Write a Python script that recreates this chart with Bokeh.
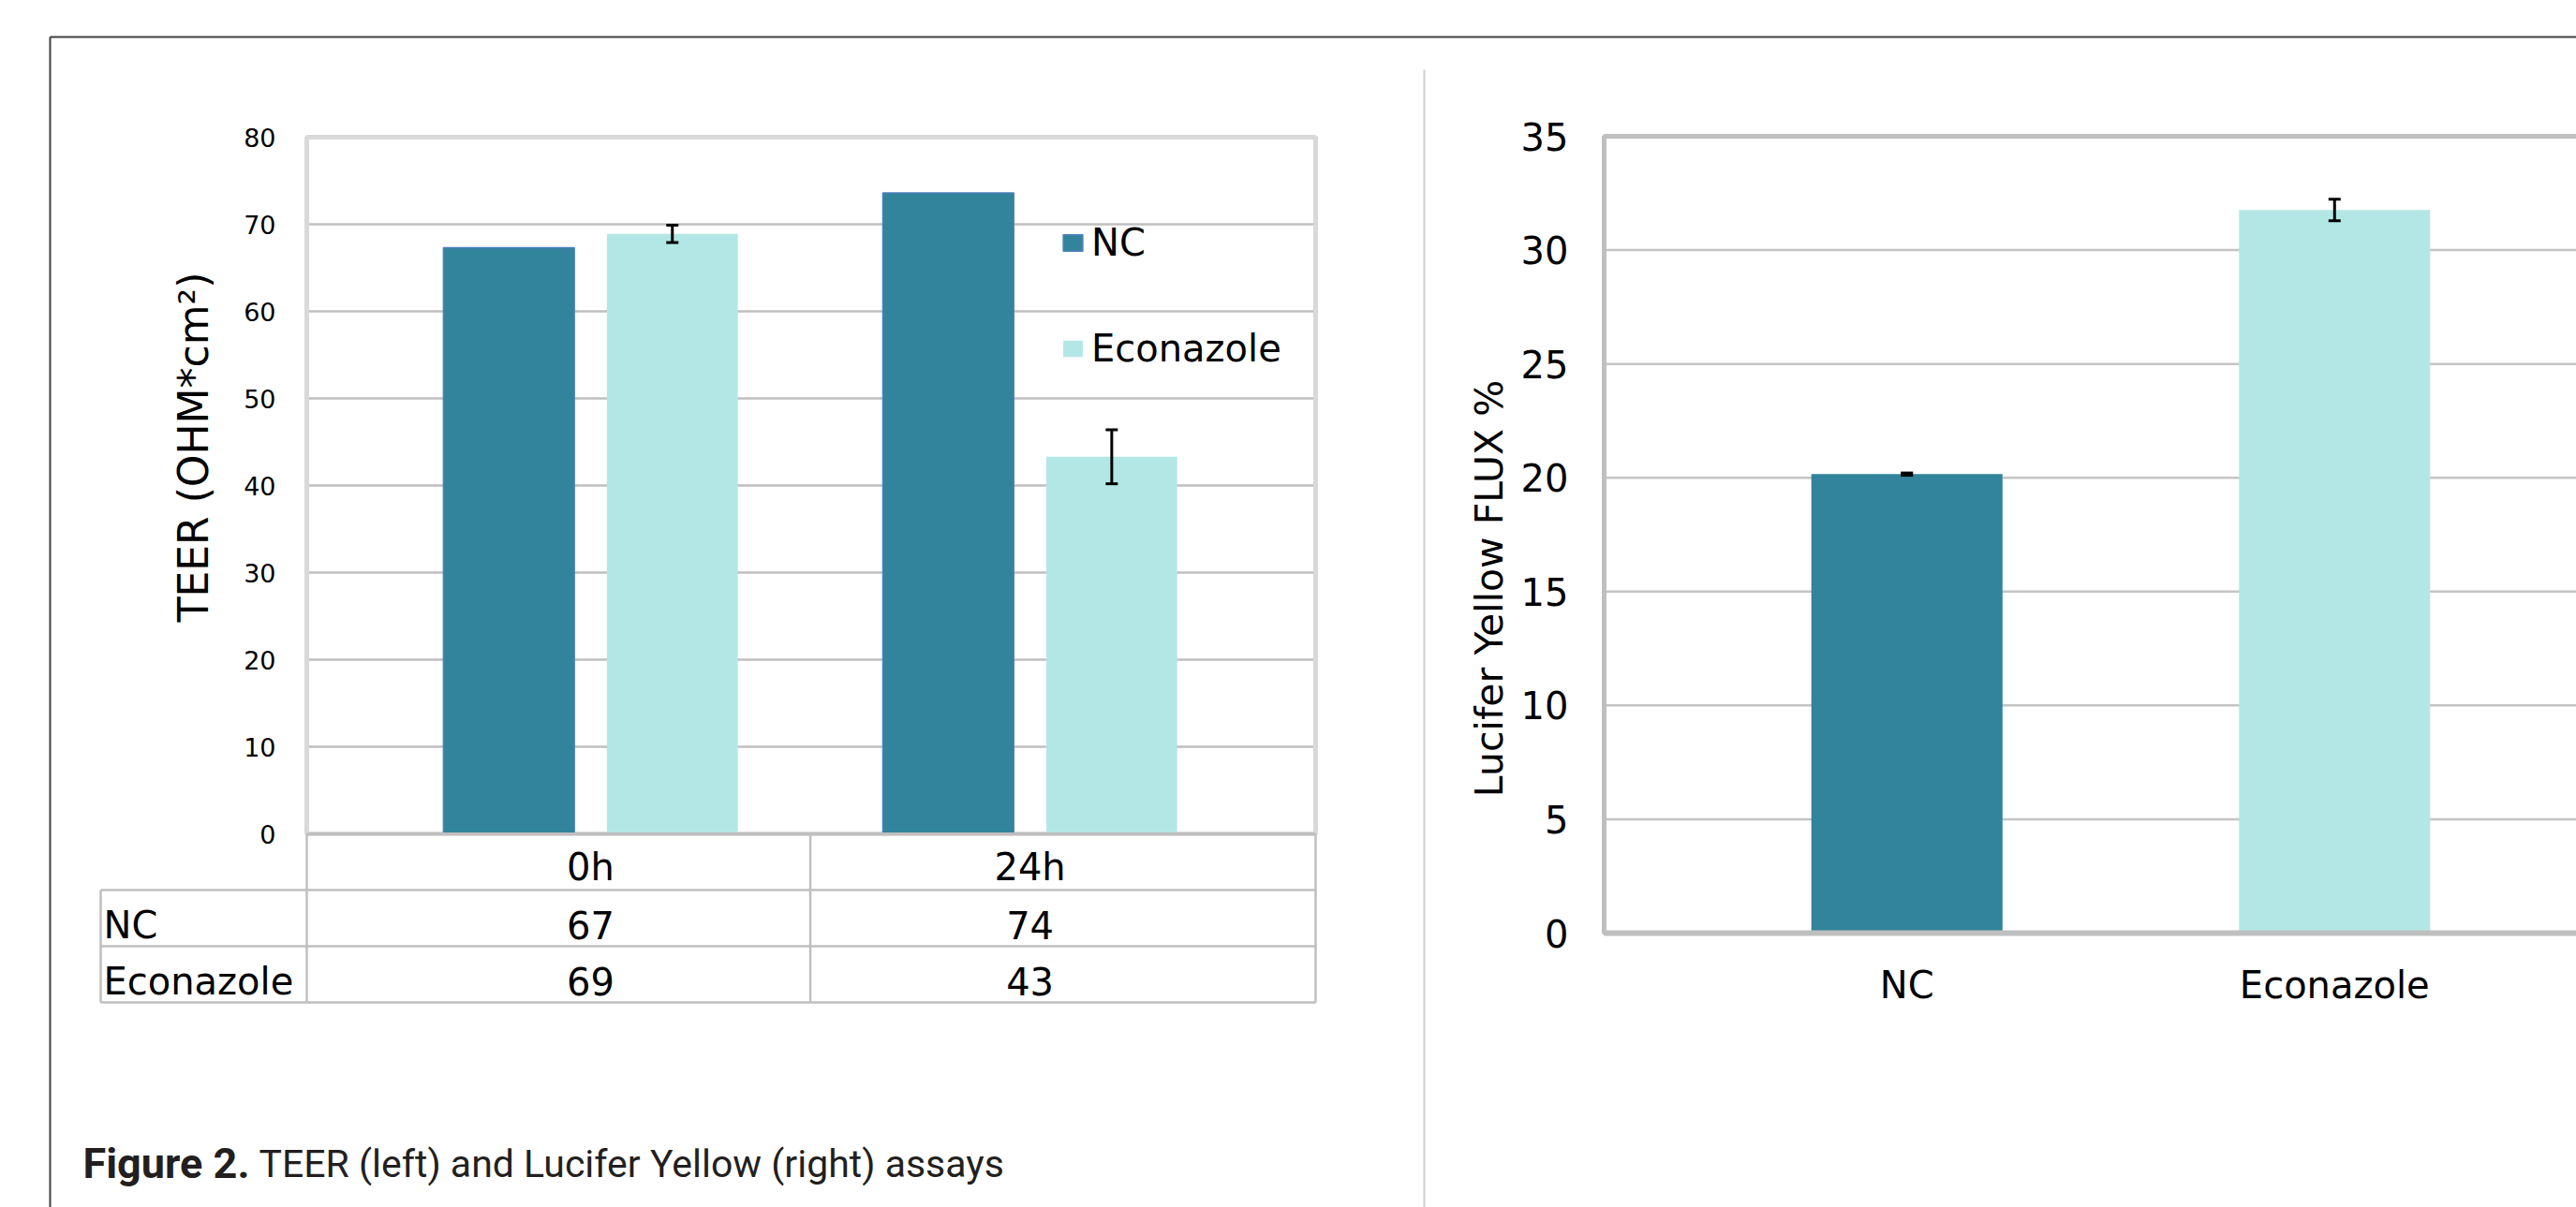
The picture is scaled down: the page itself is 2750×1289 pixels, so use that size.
import math
from bokeh.plotting import figure
from bokeh.models import Range1d, LinearAxis, FixedTicker, Legend, LegendItem
from bokeh.core.properties import value
from bokeh.embed import file_html
from bokeh.resources import INLINE

# ---------------- data ----------------
teer_times = ["0h", "24h"]
teer_series = ["NC", "Econazole"]
teer_nc = [67.3, 73.6]
teer_econ = [68.9, 43.3]
teer_econ_err = [1.0, 3.1]
teer_yticks = [0, 10, 20, 30, 40, 50, 60, 70, 80]
teer_ylabel = "TEER (OHM*cm²)"

ly_categories = ["NC", "Econazole"]
ly_values = [20.16, 31.76]
ly_err = [0.05, 0.47]
ly_yticks = [0, 5, 10, 15, 20, 25, 30, 35]
ly_ylabel = "Lucifer Yellow FLUX %"

caption_bold = "Figure 2."
caption_text = "TEER (left)  and Lucifer Yellow (right) assays"

# ---------------- layout / style ----------------
W, H = 2750, 1289
NC_COLOR = "#31849B"
EC_COLOR = "#B3E7E5"
FONT_NAME = "DejaVu Sans"
FONT = value(FONT_NAME)
CAP_FONT = value("Roboto")

# left chart frame: data span and its pixel box (pixels from top-left)
TEER_XSPAN = (-0.646, 1.650)
TEER_YSPAN = (0, 80)
TEER_PX = dict(left=327, right=1404, top=146, bottom=890)
# right chart frame
LY_XSPAN = (-0.708, 1.708)
LY_YSPAN = (0, 35)
LY_PX = dict(left=1712, right=2815, top=145, bottom=996)


def xrange_for(span, px):
    k = (span[1] - span[0]) / (px["right"] - px["left"])
    return Range1d(span[0] - px["left"] * k, span[0] + (W - px["left"]) * k)


def yrange_for(span, px):
    k = (span[1] - span[0]) / (px["top"] - px["bottom"])
    return Range1d(span[0] + (H - px["bottom"]) * k, span[0] + (0 - px["bottom"]) * k)


p = figure(width=W, height=H, x_range=Range1d(0, W), y_range=Range1d(H, 0),
           output_backend="svg", toolbar_location=None,
           x_axis_location=None, y_axis_location=None, min_border=0,
           outline_line_color=None, background_fill_color="white",
           border_fill_color="white")
p.grid.visible = False
p.extra_x_ranges = {"teer_x": xrange_for(TEER_XSPAN, TEER_PX),
                    "ly_x": xrange_for(LY_XSPAN, LY_PX)}
p.extra_y_ranges = {"teer_y": yrange_for(TEER_YSPAN, TEER_PX),
                    "ly_y": yrange_for(LY_YSPAN, LY_PX)}
T = dict(x_range_name="teer_x", y_range_name="teer_y")
L = dict(x_range_name="ly_x", y_range_name="ly_y")

AXIS_STYLE = dict(major_tick_line_color=None, minor_tick_line_color=None,
                  major_tick_out=0, major_tick_in=0, minor_tick_out=0, minor_tick_in=0,
                  major_label_text_font=FONT_NAME, major_label_text_color="black")

# ---------------- page decorations ----------------
p.segment(x0=[53, 53], y0=[39, 39], x1=[W, 53], y1=[39, H],
          line_color="#3F3F3F", line_width=2)
p.segment(x0=[1520], y0=[74], x1=[1520], y1=[H], line_color="#D0D0D0", line_width=2)

# ---------------- left chart: TEER ----------------
grid_t = [t for t in teer_yticks if TEER_YSPAN[0] < t < TEER_YSPAN[1]]
p.segment(x0=[TEER_XSPAN[0]] * len(grid_t), x1=[TEER_XSPAN[1]] * len(grid_t),
          y0=grid_t, y1=grid_t, line_color="#BFBFBF", line_width=2.5, **T)
p.quad(left=[TEER_XSPAN[0]], right=[TEER_XSPAN[1]], top=[TEER_YSPAN[1]],
       bottom=[TEER_YSPAN[0]], fill_color=None, line_color="#D9D9D9", line_width=5, **T)

xs = list(range(len(teer_times)))
off, bw = 0.186, 0.298
r_nc = p.vbar(x=[x - off for x in xs], top=teer_nc, width=bw, fill_color=NC_COLOR,
              line_color="#4F81BD", line_width=1.5, **T)
r_ec = p.vbar(x=[x + off for x in xs], top=teer_econ, width=bw, fill_color=EC_COLOR,
              line_color=None, **T)
ex = [x + off for x in xs]
lo = [v - e for v, e in zip(teer_econ, teer_econ_err)]
hi = [v + e for v, e in zip(teer_econ, teer_econ_err)]
p.segment(x0=ex, x1=ex, y0=lo, y1=hi, line_color="black", line_width=3, **T)
p.scatter(x=ex + ex, y=lo + hi, marker="dash", size=13, line_color="black",
          line_width=3, **T)

ay = LinearAxis(fixed_location=TEER_XSPAN[0], bounds=TEER_YSPAN,
                ticker=FixedTicker(ticks=teer_yticks), axis_line_color=None,
                major_label_text_font_size="27px", major_label_standoff=33,
                **AXIS_STYLE, **T)
p.add_layout(ay, "left")

ax = LinearAxis(fixed_location=TEER_YSPAN[0], bounds=TEER_XSPAN,
                ticker=FixedTicker(ticks=xs),
                major_label_overrides={i: t for i, t in enumerate(teer_times)},
                axis_line_color="#BFBFBF", axis_line_width=3,
                major_label_text_font_size="40px", major_label_standoff=12,
                **AXIS_STYLE, **T)
p.add_layout(ax, "below")

p.text(x=[206], y=[477], text=[teer_ylabel], angle=math.pi / 2, text_align="center",
       text_baseline="middle", text_font=FONT, text_font_size="44px", text_color="black")

# data table under the chart
row_base = [987, 1047]
p.segment(x0=[107, 107, 107, 107], y0=[950, 1010, 1070, 950],
          x1=[1404, 1404, 1404, 107], y1=[950, 1010, 1070, 1070],
          line_color="#BFBFBF", line_width=2.5)
p.segment(x0=[TEER_XSPAN[0], 0.5, TEER_XSPAN[1]], y0=[890] * 3,
          x1=[TEER_XSPAN[0], 0.5, TEER_XSPAN[1]], y1=[1070] * 3,
          line_color="#BFBFBF", line_width=2.5, x_range_name="teer_x")
p.text(x=[110, 110], y=row_base, text=teer_series, text_align="left",
       text_baseline="alphabetic", text_font=FONT, text_font_size="40px", text_color="black")
for vals, yb in zip([teer_nc, teer_econ], row_base):
    p.text(x=xs, y=[yb] * len(xs), text=[f"{v:.0f}" for v in vals], text_align="center",
           text_baseline="alphabetic", text_font=FONT, text_font_size="40px",
           text_color="black", x_range_name="teer_x")

legend = Legend(items=[LegendItem(label=teer_series[0], renderers=[r_nc]),
                       LegendItem(label=teer_series[1], renderers=[r_ec])],
                location=(1132, H - 395), orientation="vertical",
                glyph_width=26, glyph_height=22, label_standoff=7, spacing=67,
                padding=0, margin=0, border_line_color=None, background_fill_alpha=0,
                label_text_font=FONT_NAME, label_text_font_size="40px",
                label_text_color="black")
p.add_layout(legend)

# caption
p.text(x=[88], y=[1242], text=[caption_bold], text_font=CAP_FONT,
       text_font_style="bold", text_font_size="45px", text_color="#231F20",
       text_baseline="alphabetic")
p.text(x=[276], y=[1242], text=[caption_text], text_font=CAP_FONT,
       text_font_size="41px", text_color="#231F20", text_baseline="alphabetic")

# ---------------- right chart: Lucifer Yellow ----------------
grid_l = [t for t in ly_yticks if LY_YSPAN[0] < t < LY_YSPAN[1]]
p.segment(x0=[LY_XSPAN[0]] * len(grid_l), x1=[LY_XSPAN[1]] * len(grid_l),
          y0=grid_l, y1=grid_l, line_color="#C4C4C4", line_width=2.5, **L)
p.quad(left=[LY_XSPAN[0]], right=[LY_XSPAN[1]], top=[LY_YSPAN[1]], bottom=[LY_YSPAN[0]],
       fill_color=None, line_color="#BFBFBF", line_width=5, **L)
lx = list(range(len(ly_categories)))
p.vbar(x=lx, top=ly_values, width=0.447, fill_color=[NC_COLOR, EC_COLOR],
       line_color=None, **L)
llo = [v - e for v, e in zip(ly_values, ly_err)]
lhi = [v + e for v, e in zip(ly_values, ly_err)]
p.segment(x0=lx, x1=lx, y0=llo, y1=lhi, line_color="black", line_width=3, **L)
p.scatter(x=lx + lx, y=llo + lhi, marker="dash", size=13, line_color="black",
          line_width=3, **L)

ly_ay = LinearAxis(fixed_location=LY_XSPAN[0], bounds=LY_YSPAN,
                   ticker=FixedTicker(ticks=ly_yticks), axis_line_color=None,
                   major_label_text_font_size="40px", major_label_standoff=38,
                   **AXIS_STYLE, **L)
p.add_layout(ly_ay, "left")
ly_ax = LinearAxis(fixed_location=LY_YSPAN[0], bounds=LY_XSPAN,
                   ticker=FixedTicker(ticks=lx),
                   major_label_overrides={i: c for i, c in enumerate(ly_categories)},
                   axis_line_color="#BFBFBF", axis_line_width=6,
                   major_label_text_font_size="40px", major_label_standoff=32,
                   **AXIS_STYLE, **L)
p.add_layout(ly_ax, "below")
p.text(x=[1589], y=[628], text=[ly_ylabel], angle=math.pi / 2, text_align="center",
       text_baseline="middle", text_font=FONT, text_font_size="41px", text_color="black")

open("out.html", "w").write(file_html(p, INLINE))
